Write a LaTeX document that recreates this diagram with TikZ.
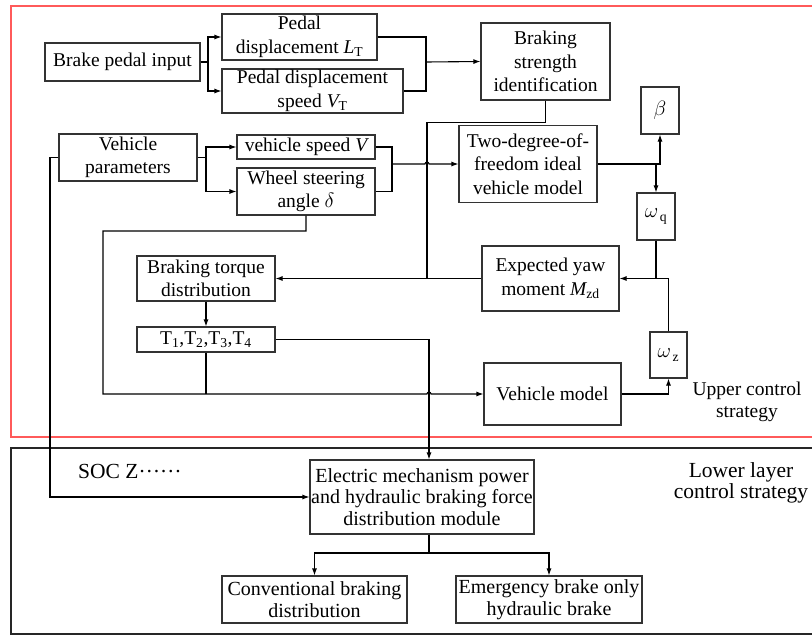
\documentclass[tikz,border=0pt]{standalone}
\usepackage{fontspec}
\setmainfont{Liberation Serif}
\usetikzlibrary{arrows.meta,calc}
\begin{document}
\begin{tikzpicture}[x=1pt,y=-1pt,
  box/.style={draw=black!80,line width=1.1pt,align=center,inner sep=0pt,font=\fontsize{19.5}{23.5}\selectfont},
  lbox/.style={box,font=\fontsize{20}{21.5}\selectfont},
  lbl/.style={align=center,inner sep=0pt,font=\fontsize{19.5}{21.5}\selectfont},
  llbl/.style={align=center,inner sep=0pt,font=\fontsize{21.5}{21.5}\selectfont},
  sz/.style 2 args={minimum width=#1pt,minimum height=#2pt},
  conn/.style={draw=black,line width=1.1pt},
  arr/.style={conn,-{Latex[length=7pt,width=5pt]}},
  frame/.style={line width=1.2pt}]
\useasboundingbox (0,0) rectangle (812,635);
\fill[white] (0,0) rectangle (812,635);
% frames
\draw[frame,draw={rgb,255:red,255;green,90;blue,90}] (11,6) rectangle (815,437);
\draw[frame,draw=black!85] (11,448) rectangle (815,634);

% upper nodes
\node[box,sz={155}{38}] (bpi) at (122.5,62) {Brake pedal input};
\node[box,sz={155}{46}] (pdl) at (299.5,37) {Pedal\\displacement {\itshape L}\textsubscript{T}};
\node[box,sz={181}{44}] (pds) at (312.5,91) {Pedal displacement\\speed {\itshape V}\textsubscript{T}};
\node[box,sz={129}{77}] (bsi) at (545.5,61.5) {Braking\\strength\\identification};
\node[box,sz={38}{47}] (beta) at (660,110.5) {$\beta$};
\node[box,sz={138}{77}] (tdf) at (528,164) {Two-degree-of-\\freedom ideal\\vehicle model};
\node[box,sz={38}{47}] (wq) at (656,216.5) {$\omega_{\,\mathrm{q}}$};
\node[box,sz={138}{47}] (vp) at (128,157.5) {Vehicle\\parameters};
\node[box,sz={138}{24}] (vs) at (306,147) {vehicle speed {\itshape V}};
\node[box,sz={138}{47}] (wsa) at (306,191.5) {Wheel steering\\angle $\delta$};
\node[box,sz={138}{45}] (btd) at (206,278.5) {Braking torque\\distribution};
\node[box,sz={138}{25}] (tt) at (206,339.5) {T\textsubscript{1},T\textsubscript{2},T\textsubscript{3},T\textsubscript{4}};
\node[box,sz={137}{65}] (eym) at (550.5,278.5) {Expected yaw\\moment {\itshape M}\textsubscript{zd}};
\node[box,sz={137}{62}] (vm) at (552.5,394) {Vehicle model};
\node[box,sz={37}{46}] (wz) at (668.5,355) {$\omega_{\,\mathrm{z}}$};
\node[lbl] (ucs) at (747,402) {Upper control\\strategy};

% lower nodes
\node[lbox,sz={224}{74}] (emp) at (422,497) {Electric mechanism power\\and hydraulic braking force\\distribution module};
\node[lbox,sz={185}{47}] (cbd) at (314.5,599.5) {Conventional braking\\distribution};
\node[lbox,sz={186}{47}] (ebo) at (549,599.5) {Emergency brake only\\hydraulic brake};
\node[llbl,anchor=west] (soc) at (78,471) {SOC Z\raisebox{0.27em}{……}};
\node[llbl] (lls) at (741,483) {Lower layer\\control strategy};

% connectors: brake pedal
\coordinate (j1) at (208,62);
\draw[conn] (bpi.east) -- (j1);
\draw[arr] (j1) |- (pdl.west);
\draw[arr] (j1) |- (pds.west);
\coordinate (m1) at (426,62);
\draw[conn] (pdl.east) -| (m1) |- (pds.east);
\draw[arr] (m1) -- (bsi.west);

% vehicle parameters
\coordinate (j2) at (206,157.5);
\draw[conn] (vp.east) -- (j2);
\draw[arr] (j2) |- (vs.west);
\draw[arr] (j2) |- (wsa.west);
\coordinate (m2) at (392,164);
\draw[conn] (vs.east) -| (m2) |- (wsa.east);
\draw[arr] (m2) -- (425,164) arc[start angle=180,end angle=360,radius=2] -- (tdf.west);

% two-degree outputs
\draw[arr] (tdf.east) -| (beta.south);
\draw[arr] (tdf.east -| wq.north) -- (wq.north);

% braking strength down to junction
\coordinate (j3) at (427,278.5);
\draw[conn] (bsi.south) -- ++(0,22) -| (j3);
\draw[arr] (eym.west) -- (btd.east);
\draw[conn] (wq.south) -- (wq.south |- eym.east);
\draw[arr] (wz.north) |- (eym.east);
\draw[arr] (vm.east) -| (wz.south);

% torque
\draw[arr] (btd.south) -- (tt.north);
\coordinate (j5) at (429,339.5);
\draw[arr] (tt.east) -- (j5) -- (j5 |- emp.north);
\coordinate (c1) at (306,231);
\coordinate (c2) at (103,394);
\draw[arr] (wsa.south) -- (c1) -| (c2) -- (427,394) arc[start angle=180,end angle=360,radius=2] -- (vm.west);
\draw[conn] (tt.south) -- (tt.south |- c2);

% vehicle params to lower
\coordinate (c3) at (50,157.5);
\draw[arr] (vp.west) -- (c3) |- (emp.west);

% lower split
\coordinate (j6) at (429,553);
\draw[conn] (emp.south -| j6) -- (j6);
\draw[arr] (j6) -| (cbd.north);
\draw[arr] (j6) -| (ebo.north);
\end{tikzpicture}
\end{document}
